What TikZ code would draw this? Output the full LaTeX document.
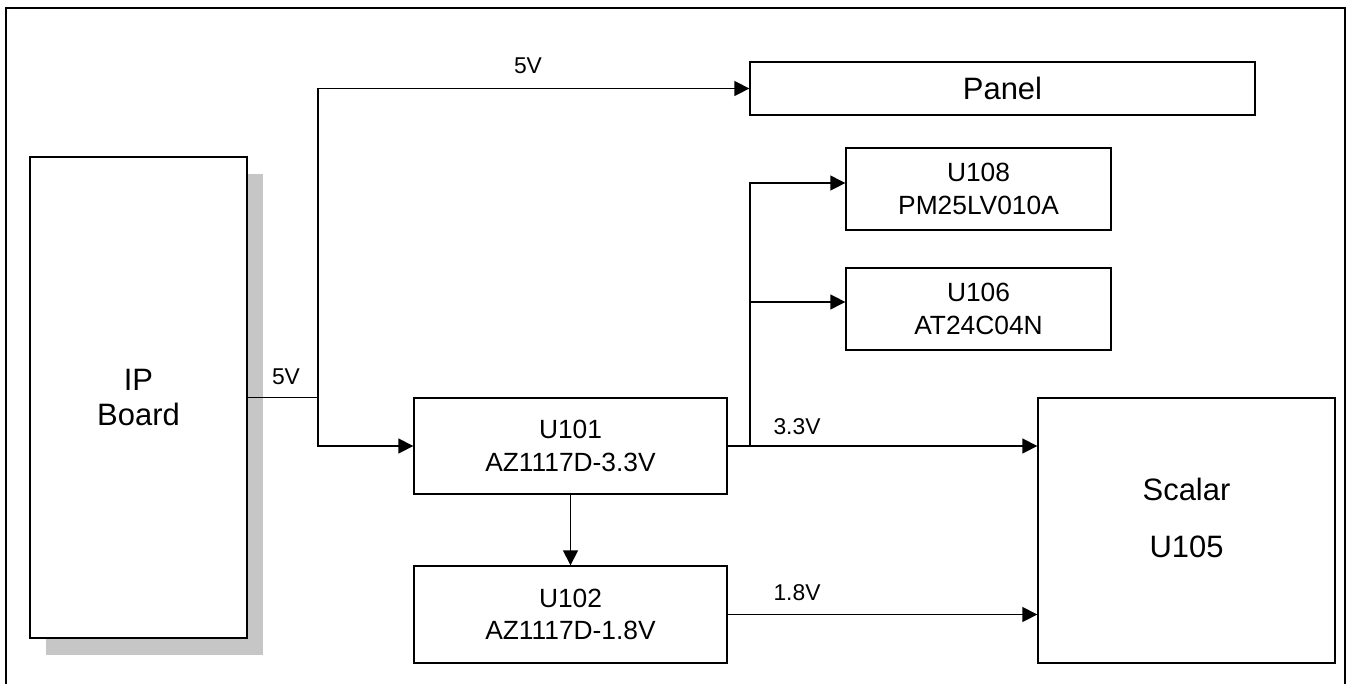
\documentclass[tikz,border=0pt]{standalone}
\usepackage{fontspec}
\setmainfont{Liberation Sans}
\usepackage{tikz}
\usetikzlibrary{arrows.meta,positioning,shadows}

\newcommand{\bigtxt}{\fontsize{17.6pt}{19.5pt}\selectfont}
\newcommand{\midtxt}{\fontsize{15pt}{18.4pt}\selectfont}
\newcommand{\lbltxt}{\fontsize{13pt}{15pt}\selectfont}

\begin{document}
\begin{tikzpicture}[x=0.02cm, y=-0.02cm,
    blk/.style={draw, line width=0.8pt, fill=white, inner sep=0pt, align=center, font=\midtxt},
    bigblk/.style={blk, font=\bigtxt},
    wire/.style={line width=0.8pt},
    arr/.style={wire, -{Triangle[length=8.5pt, width=8.5pt]}},
    lbl/.style={inner sep=1pt, font=\lbltxt}]
        \clip (0,0) rectangle (1351,683);

        % Outer frame
        \draw[line width=1.1pt] (6,8) rectangle (1345,700);

        % Blocks
        \node[bigblk, minimum width=4.34cm, minimum height=9.62cm,
              drop shadow={shadow xshift=0.32cm, shadow yshift=-0.34cm, fill=gray!45, opacity=1}]
            (ipb) at (138.5,397.5) {IP\\Board};
        \node[bigblk, minimum width=10.1cm, minimum height=1.06cm] (panel) at (1002.5,88.5) {Panel};
        \node[blk, minimum width=5.3cm, minimum height=1.64cm] (u108) at (978.5,189) {U108\\PM25LV010A};
        \node[blk, minimum width=5.3cm, minimum height=1.64cm] (u106) at (978.5,309) {U106\\AT24C04N};
        \node[blk, minimum width=6.26cm, minimum height=1.92cm] (u101) at (570.5,446) {U101\\AZ1117D-3.3V};
        \node[blk, minimum width=6.26cm, minimum height=1.94cm] (u102) at (570.5,614.5) {U102\\AZ1117D-1.8V};
        \node[blk, minimum width=5.94cm, minimum height=5.3cm] (scalar) at (1186.5,530.5) {};
        \node[align=center, font=\bigtxt] (scalartxt) at ([yshift=7pt]scalar.center) {Scalar\\[13pt]U105};

        % 5V rail
        \coordinate (j5) at (318,397.5);
        \draw[wire] (ipb.east) -- (j5);
        \draw[arr] (j5) |- (panel.west);
        \draw[arr] (j5) |- (u101.west);
        \node[lbl] (v5in) at (286,377) {5V};
        \node[lbl] (v5top) at (528,66) {5V};

        % 3.3V rail
        \coordinate (j33) at (750,446);
        \draw[arr] (u101.east) -- (u101.east -| scalar.west);
        \draw[arr] (j33) |- ([yshift=3.4pt]u108.west);
        \draw[arr] (j33) |- ([yshift=4pt]u106.west);
        \draw[arr] (u101.south) -- (u102.north);
        \node[lbl] (v33) at (797,427) {3.3V};

        % 1.8V rail
        \draw[arr] (u102.east) -- (u102.east -| scalar.west);
        \node[lbl] (v18) at (797,593) {1.8V};
    \end{tikzpicture}
\end{document}
